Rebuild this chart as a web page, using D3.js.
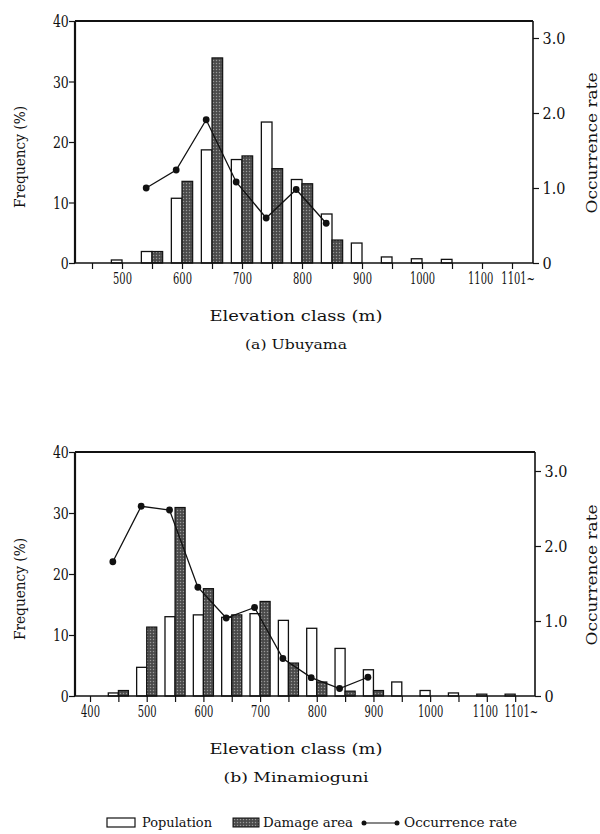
<!DOCTYPE html>
<html><head><meta charset="utf-8">
<script src="https://cdn.jsdelivr.net/npm/d3@7"></script>
<style>
html,body{margin:0;padding:0;background:#fff;}
text{font-family:"DejaVu Serif",serif;fill:#111;}
</style></head>
<body>
<script>
// ---- data: (a) Ubuyama ----
const classesA = ["450","500","550","600","650","700","750","800","850","900","950","1000","1050","1100","1101~"];
const tickLabelsA = ["500","600","700","800","900","1000","1100","1101~"];
const populationA = [0, 0.5, 1.9, 10.7, 18.7, 17.1, 23.3, 13.8, 8.1, 3.3, 1.0, 0.7, 0.6, 0, 0];
const damageA     = [0, 0, 1.9, 13.5, 33.9, 17.7, 15.6, 13.1, 3.8, 0, 0, 0, 0, 0, 0];
const rateA       = [null, null, 1.0, 1.24, 1.91, 1.08, 0.6, 0.98, 0.53, null, null, null, null, null, null];

// ---- data: (b) Minamioguni ----
const classesB = ["400","450","500","550","600","650","700","750","800","850","900","950","1000","1050","1100","1101~"];
const tickLabelsB = ["400","500","600","700","800","900","1000","1100","1101~"];
const populationB = [0, 0.5, 4.7, 13.0, 13.3, 12.9, 13.5, 12.4, 11.1, 7.8, 4.3, 2.3, 0.9, 0.5, 0.3, 0.3];
const damageB     = [0, 0.9, 11.3, 30.9, 17.6, 13.3, 15.5, 5.4, 2.3, 0.8, 0.9, 0, 0, 0, 0, 0];
const rateB       = [null, 1.79, 2.53, 2.48, 1.45, 1.04, 1.18, 0.5, 0.245, 0.10, 0.25, null, null, null, null, null];

const freqTicks = [0, 10, 20, 30, 40];
const rateTicks = [0, 1, 2, 3];

const FONT = "DejaVu Serif, serif";
const svg = d3.select("body").append("svg").attr("width", 600).attr("height", 834);

function panel(o) {
  const g = svg.append("g");
  const n = o.classes.length;
  const x = d3.scaleLinear().domain(o.xDomain).range([o.left, o.right]);
  const step = x(1) - x(0);
  const bw = step * 0.355;
  const yL = d3.scaleLinear().domain([0, 40]).range([o.bottom, o.top]);
  const yR = d3.scaleLinear().domain([0, 3]).range([o.bottom, o.r3]);

  // bars
  g.selectAll(".pop").data(o.pop.map((v, i) => ({v, i})).filter(d => d.v > 0))
    .enter().append("rect")
    .attr("x", d => x(d.i) - bw).attr("width", bw)
    .attr("y", d => yL(d.v)).attr("height", d => yL(0) - yL(d.v))
    .attr("fill", "#fff").attr("stroke", "#111").attr("stroke-width", 1.3);
  g.selectAll(".dmg").data(o.dmg.map((v, i) => ({v, i})).filter(d => d.v > 0))
    .enter().append("rect")
    .attr("x", d => x(d.i)).attr("width", bw)
    .attr("y", d => yL(d.v)).attr("height", d => yL(0) - yL(d.v))
    .attr("fill", "url(#hatch)").attr("stroke", "#111").attr("stroke-width", 1.2);

  // rate line
  const pts = o.rate.map((v, i) => ({v, i}));
  const line = d3.line().defined(d => d.v != null)
    .x(d => x(d.i) - bw / 2 - 0.5).y(d => yR(d.v));
  g.append("path").attr("d", line(pts)).attr("fill", "none")
    .attr("stroke", "#111").attr("stroke-width", 1.3);
  g.selectAll(".dot").data(pts.filter(d => d.v != null)).enter().append("circle")
    .attr("cx", d => x(d.i) - bw / 2 - 0.5).attr("cy", d => yR(d.v)).attr("r", 3.4)
    .attr("fill", "#111");

  // frame
  g.append("line").attr("x1", o.left).attr("x2", o.right).attr("y1", o.top).attr("y2", o.top)
    .attr("stroke", "#111").attr("stroke-width", 2);
  g.append("line").attr("x1", o.left).attr("x2", o.left).attr("y1", o.top).attr("y2", o.bottom)
    .attr("stroke", "#111").attr("stroke-width", 2.2);
  g.append("line").attr("x1", o.right).attr("x2", o.right).attr("y1", o.top).attr("y2", o.bottom)
    .attr("stroke", "#111").attr("stroke-width", 1.6);
  g.append("line").attr("x1", o.left).attr("x2", o.right).attr("y1", o.bottom).attr("y2", o.bottom)
    .attr("stroke", "#111").attr("stroke-width", 1.6);

  // axes
  const ax = d3.axisBottom(x).tickValues(d3.range(n)).tickSize(6).tickPadding(4)
    .tickFormat(i => o.tickLabels.includes(o.classes[i]) ? o.classes[i] : "");
  const gx = g.append("g").attr("transform", `translate(0,${o.bottom})`).call(ax);
  const al = d3.axisLeft(yL).tickValues(freqTicks).tickSize(6).tickPadding(2).tickFormat(d3.format("d"));
  const gl = g.append("g").attr("transform", `translate(${o.left},0)`).call(al);
  const ar = d3.axisRight(yR).tickValues(rateTicks).tickSize(6).tickPadding(3)
    .tickFormat(d => d === 0 ? "0" : d.toFixed(1));
  const gr = g.append("g").attr("transform", `translate(${o.right},0)`).call(ar);
  [gx, gl, gr].forEach(a => {
    a.select(".domain").remove();
    a.selectAll("line").attr("stroke", "#111").attr("stroke-width", 1.2);
    a.selectAll("text").attr("font-family", FONT).attr("font-size", 16).attr("fill", "#111");
  });
  gx.selectAll("text").attr("transform", "scale(0.62,1)");
  gx.selectAll("text").filter(i => o.classes[i] === "1101~").attr("x", 9);
  gx.selectAll("text").filter(i => o.classes[i] === "1100").attr("x", -3);
  gl.selectAll("text").attr("transform", "scale(0.78,1)").attr("dy", "0.36em");
  gr.selectAll("text").attr("dy", "0.36em").attr("transform", "translate(1.5,0) scale(0.9,1)");

  // titles
  g.append("text").attr("x", o.titleX).attr("y", o.bottom + 58).attr("text-anchor", "middle")
    .attr("font-size", 15).attr("textLength", 173).attr("lengthAdjust", "spacingAndGlyphs")
    .text("Elevation class (m)");
  g.append("text").attr("x", o.titleX).attr("y", o.bottom + 86).attr("text-anchor", "middle")
    .attr("font-size", 13).attr("textLength", o.subLen).attr("lengthAdjust", "spacingAndGlyphs")
    .text(o.subtitle);
  const cy = (o.top + o.bottom) / 2;
  g.append("text").attr("transform", `translate(25,${cy + 15}) rotate(-90)`)
    .attr("text-anchor", "middle").attr("font-size", 15)
    .attr("textLength", 102).attr("lengthAdjust", "spacingAndGlyphs").text("Frequency (%)");
  g.append("text").attr("transform", `translate(597,${cy + 1}) rotate(-90)`)
    .attr("text-anchor", "middle").attr("font-size", 15)
    .attr("textLength", 141).attr("lengthAdjust", "spacingAndGlyphs").text("Occurrence rate");
}

// stipple pattern for damage area
const defs = svg.append("defs");
const pat = defs.append("pattern").attr("id", "hatch").attr("patternUnits", "userSpaceOnUse")
  .attr("width", 3).attr("height", 3);
pat.append("rect").attr("width", 3).attr("height", 3).attr("fill", "#555");
pat.append("rect").attr("width", 1).attr("height", 1).attr("fill", "#999");
pat.append("rect").attr("x", 1.5).attr("y", 1.5).attr("width", 1).attr("height", 1).attr("fill", "#2a2a2a");

panel({classes: classesA, tickLabels: tickLabelsA, pop: populationA, dmg: damageA, rate: rateA,
  xDomain: [-0.567, 14.7], left: 75, right: 533, top: 21, bottom: 263, r3: 38,
  titleX: 296, subtitle: "(a)  Ubuyama", subLen: 102});
panel({classes: classesB, tickLabels: tickLabelsB, pop: populationB, dmg: damageB, rate: rateB,
  xDomain: [-0.53, 15.7], left: 75, right: 535, top: 452, bottom: 696, r3: 471,
  titleX: 296, subtitle: "(b)  Minamioguni", subLen: 145});

// legend
const lg = svg.append("g");
const ly = 827;
lg.append("rect").attr("x", 107).attr("y", ly - 9).attr("width", 28).attr("height", 9)
  .attr("fill", "#fff").attr("stroke", "#111").attr("stroke-width", 1.2);
lg.append("text").attr("x", 142).attr("y", ly).attr("font-size", 12)
  .attr("textLength", 70).attr("lengthAdjust", "spacingAndGlyphs").text("Population");
lg.append("rect").attr("x", 233).attr("y", ly - 9).attr("width", 26).attr("height", 9)
  .attr("fill", "url(#hatch)").attr("stroke", "#111").attr("stroke-width", 1);
lg.append("text").attr("x", 263).attr("y", ly).attr("font-size", 12)
  .attr("textLength", 90).attr("lengthAdjust", "spacingAndGlyphs").text("Damage area");
lg.append("line").attr("x1", 364).attr("x2", 397).attr("y1", ly - 4).attr("y2", ly - 4)
  .attr("stroke", "#111").attr("stroke-width", 1.2);
lg.append("circle").attr("cx", 364).attr("cy", ly - 4).attr("r", 2.5).attr("fill", "#111");
lg.append("circle").attr("cx", 397).attr("cy", ly - 4).attr("r", 2.5).attr("fill", "#111");
lg.append("text").attr("x", 404).attr("y", ly).attr("font-size", 12)
  .attr("textLength", 113).attr("lengthAdjust", "spacingAndGlyphs").text("Occurrence rate");
</script>
</body></html>
